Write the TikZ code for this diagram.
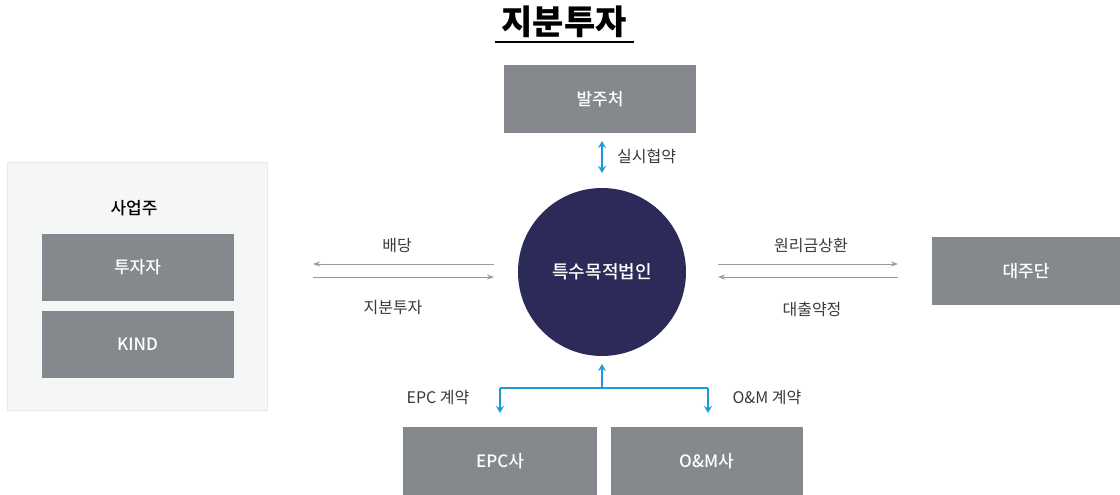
\documentclass[tikz,border=0pt]{standalone}
\usepackage{fontspec}
\setmainfont{Noto Sans CJK KR}
\newfontfamily\medfont{Noto Sans CJK KR Medium}
\usetikzlibrary{arrows.meta}
\definecolor{boxgray}{HTML}{85888C}
\definecolor{navy}{HTML}{2C2A58}
\definecolor{panel}{HTML}{F5F6F6}
\definecolor{arrgray}{HTML}{9A9A9A}
\definecolor{arrblue}{HTML}{1E9AD6}
\definecolor{txt}{HTML}{3A3A3A}
\tikzset{
  graybox/.style={fill=boxgray, draw=none, text=white, minimum width=192pt, minimum height=67pt, inner sep=0pt, font=\medfont\fontsize{17}{19}\selectfont},
  lbl/.style={text=txt, font=\fontsize{16}{18}\selectfont, inner sep=0pt},
  garrow/.style={draw=arrgray, line width=0.9pt, -{Stealth[length=7pt,width=5pt]}},
  barrow/.style={draw=arrblue, line width=1.3pt, -{Stealth[length=7pt,width=8pt]}},
}
\begin{document}
\begin{tikzpicture}[x=1pt,y=-1pt]
\useasboundingbox (0,0) rectangle (1120,495);
\fill[white] (0,0) rectangle (1120,495);
% title
\node[font=\bfseries\fontsize{34}{36}\selectfont, inner sep=0pt] (title) at (564,22) {지분투자};
\draw[line width=1.4pt] (495,42) -- (634,42);
% left panel
\node[fill=panel, draw=panel!90!gray, minimum width=260pt, minimum height=248pt, inner sep=0pt] (panel) at (137,286) {};
\node[lbl, text=black, font=\medfont\fontsize{17}{19}\selectfont] (owner) at (134,208) {사업주};
\node[graybox] (inv) at (137.5,267) {투자자};
\node[graybox] (kind) at (137.5,344) {KIND};
% top
\node[graybox] (client) at (600,99) {발주처};
\coordinate (ca) at (602,141);
\coordinate (cb) at (602,173);
\draw[barrow, {Stealth[length=7pt,width=8pt]}-{Stealth[length=7pt,width=8pt]}] (ca) -- (cb);
\node[lbl, anchor=west] (conc) at (617,156) {실시협약};
% circle
\node[circle, fill=navy, minimum size=168pt, inner sep=0pt, text=white, font=\medfont\fontsize{18}{20}\selectfont] (spc) at (602,272) {특수목적법인};
% left arrows
\coordinate (l1) at (313,264);
\coordinate (r1) at (494,264);
\coordinate (l2) at (313,277);
\coordinate (r2) at (494,277);
\draw[garrow] (r1) -- (l1);
\draw[garrow] (l2) -- (r2);
\node[lbl] (div) at (397,246) {배당};
\node[lbl] (eq) at (393,308) {지분투자};
% right
\node[graybox, minimum width=188pt, minimum height=68pt] (lender) at (1026,271) {대주단};
\coordinate (a1) at (718,264);
\coordinate (b1) at (898,264);
\coordinate (a2) at (718,277);
\coordinate (b2) at (898,277);
\draw[garrow] (a1) -- (b1);
\draw[garrow] (b2) -- (a2);
\node[lbl] (repay) at (811,245) {원리금상환};
\node[lbl] (loan) at (812,309) {대출약정};
% bottom
\node[graybox, minimum width=194pt, minimum height=68pt] (epc) at (500,461) {EPC사};
\node[graybox, minimum height=68pt] (om) at (706.5,461) {O\&M사};
\coordinate (jt) at (602,388);
\coordinate (jl) at (500,388);
\coordinate (jr) at (708,388);
\coordinate (up) at (602,364);
\coordinate (dl) at (500,413);
\coordinate (dr) at (708,413);
\draw[barrow] (jt) -- (up);
\draw[draw=arrblue, line width=1.3pt] (jl) -- (jr);
\draw[barrow] (jl) -- (dl);
\draw[barrow] (jr) -- (dr);
\node[lbl] (epcl) at (438,398) {EPC 계약};
\node[lbl] (oml) at (767,398) {O\&M 계약};
\end{tikzpicture}
\end{document}
